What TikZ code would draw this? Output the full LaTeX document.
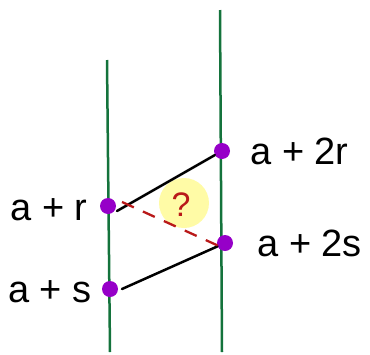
\documentclass[tikz,border=0pt]{standalone}
\usepackage{fontspec}
\setmainfont{Liberation Sans}
\usetikzlibrary{positioning}

\definecolor{railgreen}{RGB}{20,115,60}
\definecolor{dotpurple}{RGB}{150,0,200}
\definecolor{guessred}{RGB}{185,25,25}
\definecolor{marker}{RGB}{255,250,150}

\begin{document}
\begin{tikzpicture}[
    x=1pt, y=-1pt,
    node distance=1cm and 1cm,
    every node/.style={font=\fontsize{38}{40}\selectfont},
    dot/.style={circle, fill=dotpurple, inner sep=0pt, minimum size=16pt},
    tag/.style={inner sep=0pt},
    rail/.style={draw=railgreen, line width=2.5pt},
    link/.style={draw, line width=2.5pt, line cap=round}
]
\useasboundingbox (0,0) rectangle (370,354);

% Rails
\coordinate (ltop) at (107, 60);
\coordinate (lbot) at (110, 352);
\coordinate (rtop) at (220, 10);
\coordinate (rbot) at (222, 352);
\draw[rail] (ltop) -- (lbot);
\draw[rail] (rtop) -- (rbot);

% Highlight behind the question mark
\fill[marker, opacity=0.85] (184, 203) circle (25);

% Points on the rails
\node[dot] (ar)  at (108, 206) {};
\node[dot] (as)  at (110, 289) {};
\node[dot] (a2r) at (222, 151) {};
\node[dot] (a2s) at (225, 243) {};

% Labels
\node[tag, left=12pt of ar, yshift=-4pt]   (lar)  {a + r};
\node[tag, left=10pt of as, yshift=-3pt]   (las)  {a + s};
\node[tag, right=20pt of a2r]              (la2r) {a + 2r};
\node[tag, right=24pt of a2s]              (la2s) {a + 2s};

% Connections
\draw[link] (a2r) -- ([xshift=9pt,yshift=-5pt]ar.center);
\draw[link] (a2s) -- ([xshift=12pt]as.center);
\draw[draw=guessred, line width=2.3pt, dash pattern=on 13pt off 10pt]
    ([xshift=14pt,yshift=4pt]ar.center) -- ([xshift=-4pt,yshift=-4pt]a2s.center);
\node[text=guessred, font=\fontsize{34}{36}\selectfont] (guess) at (181, 205) {?};

\end{tikzpicture}
\end{document}
